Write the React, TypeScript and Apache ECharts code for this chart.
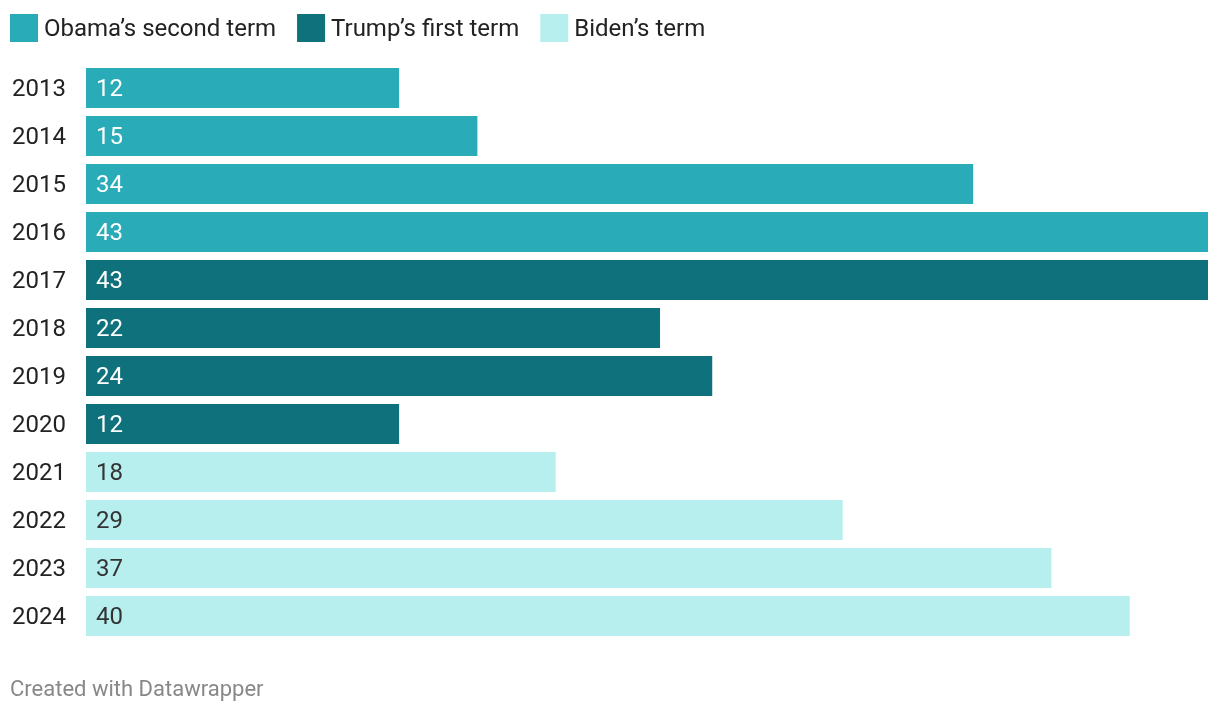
import React, { useEffect, useRef } from "react";
import * as echarts from "echarts";

const years = ["2013", "2014", "2015", "2016", "2017", "2018", "2019", "2020", "2021", "2022", "2023", "2024"];
const values = [12, 15, 34, 43, 43, 22, 24, 12, 18, 29, 37, 40];
const terms = [0, 0, 0, 0, 1, 1, 1, 1, 2, 2, 2, 2];
const termNames = ["Obama\u2019s second term", "Trump\u2019s first term", "Biden\u2019s term"];
const termColors = ["#2aacb8", "#0e717c", "#b7eeee"];
const labelColors = ["#ffffff", "#ffffff", "#333333"];

export default function App() {
  const ref = useRef<HTMLDivElement>(null);
  useEffect(() => {
    const chart = echarts.init(ref.current!, null, { renderer: "svg" });
    const series = termNames.map((name, t) => ({
      name,
      type: "bar",
      stack: "all",
      barCategoryGap: "16.7%",
      itemStyle: { color: termColors[t] },
      label: {
        show: true,
        position: "insideLeft",
        distance: 10,
        color: labelColors[t],
        fontSize: 24,
        fontFamily: "Roboto",
      },
      data: values.map((v, i) => (terms[i] === t ? v : "-")),
    }));
    chart.setOption({
      animation: false,
      textStyle: { fontFamily: "Roboto" },
      legend: {
        left: 10,
        top: 14,
        padding: 0,
        itemWidth: 28,
        itemHeight: 28,
        itemGap: 21,
        icon: "rect",
        textStyle: { fontSize: 24, color: "#222", fontFamily: "Roboto", padding: [0, 0, 0, 1] },
        selectedMode: false,
        data: termNames,
      },
      grid: { left: 86, right: 12, top: 64, height: 576 },
      xAxis: { type: "value", min: 0, max: 43, show: false },
      yAxis: {
        type: "category",
        data: years,
        inverse: true,
        axisLine: { show: false },
        axisTick: { show: false },
        axisLabel: { fontSize: 24, color: "#222", align: "left", margin: 74, fontFamily: "Roboto" },
      },
      graphic: [
        {
          type: "text",
          left: 10,
          top: 677,
          style: { text: "Created with Datawrapper", fontSize: 22, fill: "#888", fontFamily: "Roboto" },
        },
      ],
      series,
    });
    return () => chart.dispose();
  }, []);
  return <div ref={ref} style={{ position: "fixed", left: 0, top: 0, width: 1220, height: 714 }} />;
}
